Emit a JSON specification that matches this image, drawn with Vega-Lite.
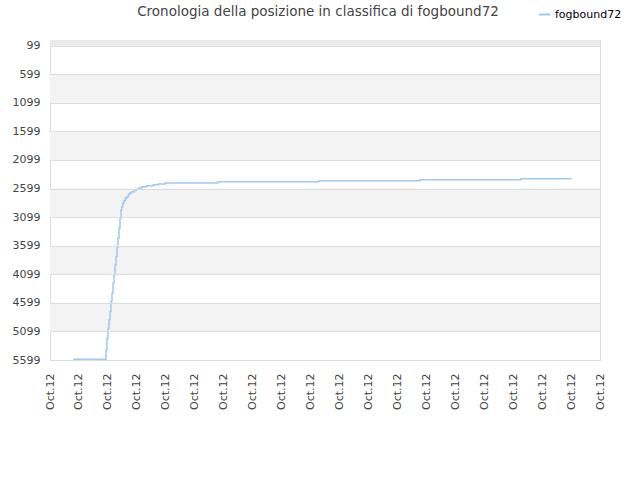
{
  "$schema": "https://vega.github.io/schema/vega-lite/v6.json",
  "autosize": {"type": "none"},
  "width": 550,
  "height": 320,
  "padding": {"left": 50, "top": 40, "right": 40, "bottom": 120},
  "background": "white",
  "config": {
    "font": "DejaVu Sans",
    "view": {"stroke": "#dddddd"}
  },
  "title": {
    "text": "Cronologia della posizione in classifica di fogbound72",
    "fontSize": 13.5,
    "fontWeight": "normal",
    "color": "#444444",
    "font": "DejaVu Sans",
    "anchor": "middle",
    "offset": -10,
    "dx": -7
  },
  "datasets": {
    "bands": [
      {"lo": 599, "hi": 1099},
      {"lo": 1599, "hi": 2099},
      {"lo": 2599, "hi": 3099},
      {"lo": 3599, "hi": 4099},
      {"lo": 4599, "hi": 5099}
    ],
    "top": [{"lo": 0, "hi": 99}],
    "rank": [
      {"i": 1, "t": 0.80, "pos": 5585, "name": "fogbound72"},
      {"i": 2, "t": 1.900, "pos": 5585, "name": "fogbound72"},
      {"i": 3, "t": 1.934, "pos": 5422, "name": "fogbound72"},
      {"i": 4, "t": 1.969, "pos": 5218, "name": "fogbound72"},
      {"i": 5, "t": 2.004, "pos": 5043, "name": "fogbound72"},
      {"i": 6, "t": 2.038, "pos": 4897, "name": "fogbound72"},
      {"i": 7, "t": 2.073, "pos": 4752, "name": "fogbound72"},
      {"i": 8, "t": 2.107, "pos": 4577, "name": "fogbound72"},
      {"i": 9, "t": 2.142, "pos": 4431, "name": "fogbound72"},
      {"i": 10, "t": 2.176, "pos": 4257, "name": "fogbound72"},
      {"i": 11, "t": 2.211, "pos": 4111, "name": "fogbound72"},
      {"i": 12, "t": 2.245, "pos": 3936, "name": "fogbound72"},
      {"i": 13, "t": 2.280, "pos": 3790, "name": "fogbound72"},
      {"i": 14, "t": 2.314, "pos": 3627, "name": "fogbound72"},
      {"i": 15, "t": 2.349, "pos": 3470, "name": "fogbound72"},
      {"i": 16, "t": 2.384, "pos": 3295, "name": "fogbound72"},
      {"i": 17, "t": 2.418, "pos": 3120, "name": "fogbound72"},
      {"i": 18, "t": 2.453, "pos": 2975, "name": "fogbound72"},
      {"i": 19, "t": 2.476, "pos": 2916, "name": "fogbound72"},
      {"i": 20, "t": 2.510, "pos": 2858, "name": "fogbound72"},
      {"i": 21, "t": 2.556, "pos": 2811, "name": "fogbound72"},
      {"i": 22, "t": 2.602, "pos": 2771, "name": "fogbound72"},
      {"i": 23, "t": 2.648, "pos": 2741, "name": "fogbound72"},
      {"i": 24, "t": 2.706, "pos": 2701, "name": "fogbound72"},
      {"i": 25, "t": 2.764, "pos": 2672, "name": "fogbound72"},
      {"i": 26, "t": 2.821, "pos": 2654, "name": "fogbound72"},
      {"i": 27, "t": 2.913, "pos": 2631, "name": "fogbound72"},
      {"i": 28, "t": 2.994, "pos": 2613, "name": "fogbound72"},
      {"i": 29, "t": 3.074, "pos": 2590, "name": "fogbound72"},
      {"i": 30, "t": 3.167, "pos": 2567, "name": "fogbound72"},
      {"i": 31, "t": 3.339, "pos": 2549, "name": "fogbound72"},
      {"i": 32, "t": 3.570, "pos": 2532, "name": "fogbound72"},
      {"i": 33, "t": 3.742, "pos": 2520, "name": "fogbound72"},
      {"i": 34, "t": 3.973, "pos": 2500, "name": "fogbound72"},
      {"i": 35, "t": 5.80, "pos": 2482, "name": "fogbound72"},
      {"i": 36, "t": 9.29, "pos": 2464, "name": "fogbound72"},
      {"i": 37, "t": 12.78, "pos": 2446, "name": "fogbound72"},
      {"i": 38, "t": 16.27, "pos": 2428, "name": "fogbound72"},
      {"i": 39, "t": 18.02, "pos": 2428, "name": "fogbound72"}
    ]
  },
  "layer": [
    {
      "data": {"name": "top"},
      "mark": {"type": "rect", "fill": "#ebebeb"},
      "encoding": {
        "y": {
          "field": "lo",
          "type": "quantitative",
          "scale": {"domain": [0, 5599], "reverse": true, "nice": false, "zero": false},
          "axis": {
            "title": null,
            "values": [99,599,1099,1599,2099,2599,3099,3599,4099,4599,5099,5599],
            "format": "d",
            "labelFontSize": 11,
            "labelColor": "#444444",
            "labelPadding": 10,
            "ticks": false,
            "grid": true,
            "gridColor": "#dddddd",
            "domain": false,
            "zindex": 1,
            "labelOverlap": false,
            "labelFlush": false
          }
        },
        "y2": {"field": "hi"}
      }
    },
    {
      "data": {"name": "bands"},
      "mark": {"type": "rect", "fill": "#f3f3f3"},
      "encoding": {
        "y": {
          "field": "lo",
          "type": "quantitative",
          "axis": {
            "title": null,
            "values": [99,599,1099,1599,2099,2599,3099,3599,4099,4599,5099,5599],
            "format": "d",
            "labelFontSize": 11,
            "labelColor": "#444444",
            "labelPadding": 10,
            "ticks": false,
            "grid": true,
            "gridColor": "#dddddd",
            "domain": false,
            "zindex": 1,
            "labelOverlap": false,
            "labelFlush": false
          }
        },
        "y2": {"field": "hi"}
      }
    },
    {
      "data": {"name": "rank"},
      "mark": {"type": "line", "interpolate": "step-after", "strokeWidth": 1.5},
      "encoding": {
        "x": {
          "field": "t",
          "type": "quantitative",
          "scale": {"domain": [0, 19], "nice": false, "zero": false},
          "axis": {
            "title": null,
            "values": [0,1,2,3,4,5,6,7,8,9,10,11,12,13,14,15,16,17,18,19],
            "labelExpr": "'Oct.12'",
            "labelAngle": -90,
            "labelAlign": "right",
            "labelBaseline": "middle",
            "labelFontSize": 11,
            "labelColor": "#444444",
            "labelPadding": 13,
            "ticks": false,
            "grid": false,
            "domain": false,
            "labelOverlap": false,
            "labelFlush": false
          }
        },
        "y": {
          "field": "pos",
          "type": "quantitative",
          "axis": {
            "title": null,
            "values": [99,599,1099,1599,2099,2599,3099,3599,4099,4599,5099,5599],
            "format": "d",
            "labelFontSize": 11,
            "labelColor": "#444444",
            "labelPadding": 10,
            "ticks": false,
            "grid": true,
            "gridColor": "#dddddd",
            "domain": false,
            "zindex": 1,
            "labelOverlap": false,
            "labelFlush": false
          }
        },
        "color": {
          "field": "name",
          "type": "nominal",
          "scale": {"range": ["#9dc9f3"]},
          "legend": {
            "title": null,
            "orient": "none",
            "legendX": 488,
            "legendY": -32,
            "symbolType": "stroke",
            "symbolSize": 120,
            "symbolStrokeWidth": 2,
            "labelFontSize": 11,
            "labelColor": "#000000",
            "labelFont": "DejaVu Sans"
          }
        },
        "order": {"field": "i", "type": "quantitative"}
      }
    }
  ]
}
